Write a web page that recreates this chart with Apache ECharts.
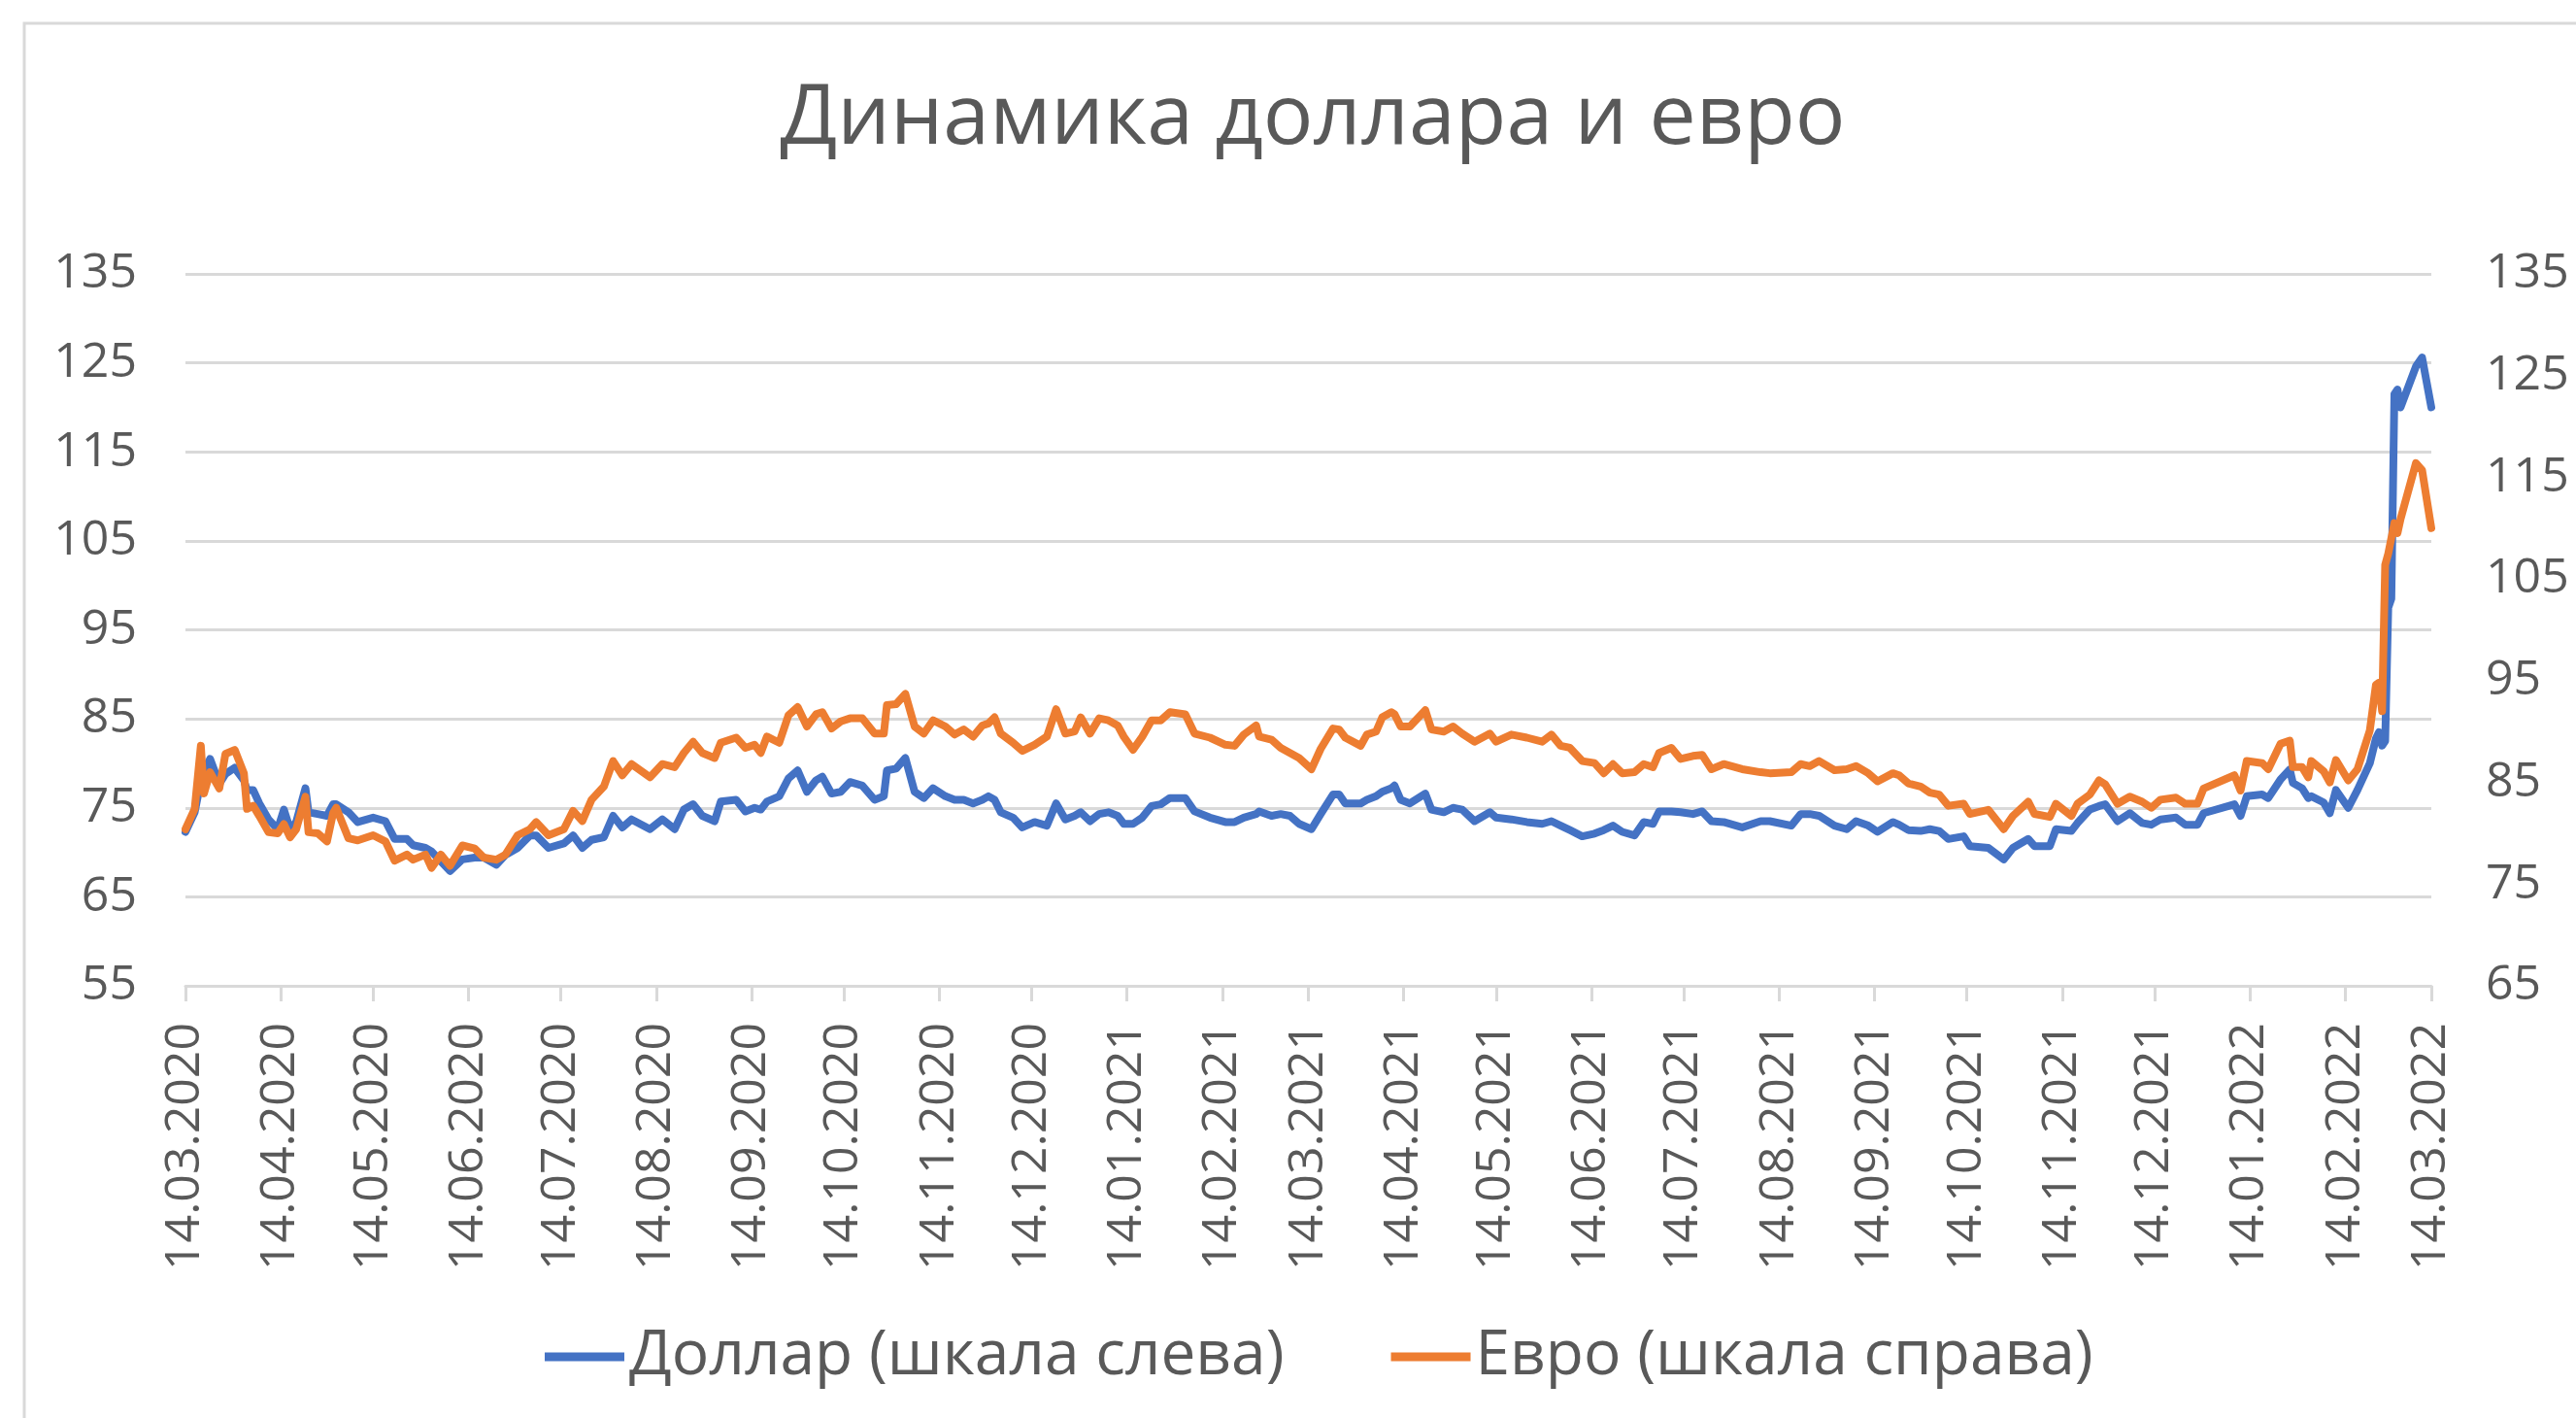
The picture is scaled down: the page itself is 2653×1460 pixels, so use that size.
<!DOCTYPE html>
<html>
<head>
<meta charset="utf-8">
<script src="https://cdn.jsdelivr.net/npm/echarts@6/dist/echarts.min.js"></script>
<style>
html, body { margin: 0; padding: 0; background: #ffffff; }
#chart { width: 2653px; height: 1460px; }
</style>
</head>
<body>
<div id="chart"></div>
<script>
// ---- Data ----
const titleText = 'Динамика доллара и евро';
const seriesNames = ['Доллар (шкала слева)', 'Евро (шкала справа)'];
const startDate = [2020, 2, 14]; // 14.03.2020 (day 0)

// days since 14.03.2020
const days = [
  0,3,5,6,8,11,13,16,19,20,
  22,24,27,30,32,34,36,39,40,43,
  46,48,49,53,56,61,65,68,72,74,
  78,80,83,86,90,94,97,101,104,108,
  112,114,118,123,126,129,132,136,139,142,
  145,151,155,159,162,165,168,172,174,179,
  182,185,187,189,193,196,199,202,205,207,
  210,213,216,220,224,227,228,231,234,237,
  240,243,247,250,253,256,259,261,263,265,
  269,272,276,280,283,286,289,291,294,297,
  300,303,305,308,311,314,317,320,325,328,
  333,338,341,344,348,349,353,356,359,362,
  366,369,373,375,377,382,384,387,389,392,
  393,395,398,403,405,409,412,415,419,424,
  426,431,436,441,444,447,450,454,458,461,
  464,467,471,474,477,479,483,486,490,493,
  496,500,506,512,515,522,525,528,531,536,
  540,543,547,550,555,557,560,564,567,570,
  573,578,580,586,591,594,599,601,606,608,
  613,615,619,622,624,628,632,636,639,642,
  647,650,654,656,666,668,670,675,677,681,
  684,685,688,690,691,695,697,699,703,706,
  710,712,713,714,715,716,717,718,719,720,
  725,727,730
];

// USD (left scale)
const usd = [
  72.3,74.5,78.0,79.0,80.5,77.7,78.8,79.5,78.1,77.0,
  77.0,75.5,73.7,72.6,74.8,72.6,73.4,77.2,74.5,74.3,
  74.1,75.4,75.4,74.5,73.4,73.9,73.5,71.5,71.5,70.8,
  70.5,70.1,69.0,67.9,69.2,69.4,69.4,68.6,69.7,70.5,
  71.9,71.9,70.5,71.0,71.9,70.5,71.4,71.7,74.1,72.8,
  73.7,72.6,73.7,72.6,74.8,75.4,74.1,73.5,75.7,75.9,
  74.6,75.0,74.8,75.7,76.3,78.3,79.2,76.8,78.1,78.5,
  76.6,76.8,77.9,77.5,75.9,76.3,79.2,79.4,80.6,76.8,
  76.1,77.2,76.3,75.9,75.9,75.5,75.9,76.3,75.9,74.5,
  73.9,72.8,73.4,73.0,75.5,73.7,74.1,74.5,73.5,74.3,
  74.5,74.1,73.2,73.2,73.9,75.2,75.4,76.1,76.1,74.6,
  73.9,73.4,73.4,73.9,74.3,74.6,74.1,74.3,74.1,73.2,
  72.6,74.3,76.5,76.5,75.5,75.5,75.9,76.3,76.8,77.2,
  77.5,75.9,75.5,76.6,74.8,74.5,75.0,74.8,73.5,74.5,
  73.9,73.7,73.4,73.2,73.5,73.0,72.5,71.8,72.1,72.5,
  73.0,72.3,71.9,73.4,73.2,74.6,74.6,74.5,74.3,74.6,
  73.5,73.4,72.8,73.5,73.5,73.0,74.3,74.3,74.1,73.0,
  72.6,73.5,73.0,72.3,73.4,73.1,72.5,72.4,72.6,72.4,
  71.5,71.8,70.7,70.5,69.2,70.5,71.5,70.7,70.7,72.6,
  72.4,73.3,74.8,75.2,75.4,73.5,74.4,73.3,73.1,73.7,
  73.9,73.1,73.1,74.4,75.4,74.1,76.3,76.5,76.1,78.2,
  79.3,77.8,77.2,76.1,76.3,75.6,74.4,77.0,75.0,77.0,
  80.0,82.8,83.5,82.0,82.5,97.5,98.5,121.5,122.0,120.0,
  124.6,125.6,120.0
];

// EUR (right scale)
const eur = [
  80.4,82.4,88.6,83.9,86.0,84.4,87.8,88.2,85.9,82.4,
  82.7,81.7,80.1,80.0,80.9,79.6,80.4,83.6,80.1,80.0,
  79.2,82.0,82.5,79.5,79.3,79.8,79.2,77.3,77.9,77.4,
  77.9,76.6,77.9,76.8,78.8,78.5,77.6,77.4,77.9,79.8,
  80.4,81.1,79.8,80.4,82.2,81.2,83.3,84.6,87.1,85.7,
  86.8,85.5,86.8,86.5,87.9,89.0,87.9,87.4,88.9,89.4,
  88.4,88.7,87.9,89.5,88.9,91.6,92.4,90.5,91.7,91.9,
  90.3,91.0,91.3,91.3,89.8,89.8,92.6,92.7,93.7,90.5,
  89.8,91.1,90.5,89.7,90.2,89.5,90.6,90.8,91.4,89.8,
  88.9,88.1,88.7,89.5,92.2,89.8,90.0,91.4,89.8,91.3,
  91.1,90.6,89.5,88.2,89.5,91.1,91.1,91.9,91.7,89.8,
  89.4,88.7,88.6,89.7,90.6,89.5,89.2,88.4,87.9,87.4,
  86.3,88.3,90.3,90.2,89.4,88.6,89.7,90.0,91.4,91.9,
  91.7,90.5,90.5,92.1,90.2,90.0,90.5,89.8,89.0,89.8,
  89.0,89.7,89.4,89.0,89.7,88.6,88.4,87.1,86.9,85.9,
  86.8,85.9,86.0,86.8,86.5,87.9,88.4,87.3,87.6,87.7,
  86.3,86.8,86.3,86.0,85.9,86.0,86.8,86.6,87.1,86.2,
  86.3,86.6,85.9,85.1,85.9,85.7,84.9,84.6,84.0,83.8,
  82.7,82.9,81.9,82.3,80.4,81.7,83.1,81.9,81.6,82.9,
  81.7,82.9,83.8,85.2,84.8,82.9,83.6,83.1,82.5,83.3,
  83.5,82.9,82.9,84.4,85.7,84.2,87.1,86.9,86.3,88.8,
  89.1,86.5,86.5,85.5,87.1,86.1,85.0,87.2,85.2,86.3,
  90.1,94.6,94.8,92.0,106.4,107.5,109.0,110.5,109.5,110.9,
  116.4,115.7,110.0
];

const tickLabels = [
  '14.03.2020','14.04.2020','14.05.2020','14.06.2020','14.07.2020','14.08.2020',
  '14.09.2020','14.10.2020','14.11.2020','14.12.2020','14.01.2021','14.02.2021',
  '14.03.2021','14.04.2021','14.05.2021','14.06.2021','14.07.2021','14.08.2021',
  '14.09.2021','14.10.2021','14.11.2021','14.12.2021','14.01.2022','14.02.2022',
  '14.03.2022'
];
const leftAxis = { min: 55, max: 135, step: 10 };
const rightAxis = { min: 65, max: 135, step: 10 };

// ---- Build ----
function dayToTime(d) { return new Date(startDate[0], startDate[1], startDate[2] + d).getTime(); }
function parseLabel(s) { const p = s.split('.'); return new Date(+p[2], +p[1] - 1, +p[0]).getTime(); }
const tickTimes = tickLabels.map(parseLabel);
function fmt(v) {
  let best = 0, bd = Infinity;
  for (let i = 0; i < tickTimes.length; i++) { const dd = Math.abs(tickTimes[i] - v); if (dd < bd) { bd = dd; best = i; } }
  return tickLabels[best];
}
const usdData = days.map((d, i) => [dayToTime(d), usd[i]]);
const eurData = days.map((d, i) => [dayToTime(d), eur[i]]);

const FONT = 'Open Sans';
const TXT = '#595959';
const GRIDC = '#d9d9d9';

const chart = echarts.init(document.getElementById('chart'), null, { renderer: 'canvas', width: 2653, height: 1460 });
chart.setOption({
  backgroundColor: '#ffffff',
  animation: false,
  graphic: [{
    type: 'rect', silent: true, z: -10,
    shape: { x: 25, y: 24, width: 2700, height: 1500 },
    style: { fill: null, stroke: '#d9d9d9', lineWidth: 3 }
  }],
  title: {
    text: titleText,
    left: 1347, top: 75, textAlign: 'center',
    textStyle: { fontFamily: FONT, fontSize: 86, fontWeight: 'normal', color: TXT }
  },
  legend: {
    data: seriesNames,
    left: 556, top: 1360,
    icon: 'rect', itemWidth: 82, itemHeight: 9, itemGap: 110,
    textStyle: { fontFamily: FONT, fontSize: 64, color: TXT }
  },
  grid: { left: 191, right: 149, top: 282, bottom: 445, containLabel: false },
  xAxis: {
    type: 'value',
    min: tickTimes[0], max: tickTimes[tickTimes.length - 1],
    axisLine: { show: true, lineStyle: { color: GRIDC, width: 3 } },
    axisTick: { show: true, customValues: tickTimes, length: 16, lineStyle: { color: GRIDC, width: 3 } },
    axisLabel: {
      customValues: tickTimes, rotate: 90, margin: 38, formatter: fmt,
      fontFamily: FONT, fontSize: 50, color: TXT, hideOverlap: false
    },
    splitLine: { show: false }
  },
  yAxis: [{
    type: 'value', position: 'left',
    min: leftAxis.min, max: leftAxis.max, interval: leftAxis.step,
    axisLine: { show: false }, axisTick: { show: false },
    axisLabel: { margin: 50, fontFamily: FONT, fontSize: 50, color: TXT },
    splitLine: { show: true, lineStyle: { color: GRIDC, width: 3 } }
  }, {
    type: 'value', position: 'right',
    min: rightAxis.min, max: rightAxis.max, interval: rightAxis.step,
    axisLine: { show: false }, axisTick: { show: false },
    axisLabel: { margin: 56, fontFamily: FONT, fontSize: 50, color: TXT },
    splitLine: { show: false }
  }],
  series: [{
    name: seriesNames[0], type: 'line', yAxisIndex: 0,
    data: usdData, showSymbol: false, symbol: 'none',
    itemStyle: { color: '#4472C4' },
    lineStyle: { color: '#4472C4', width: 8, cap: 'round', join: 'round' }
  }, {
    name: seriesNames[1], type: 'line', yAxisIndex: 1,
    data: eurData, showSymbol: false, symbol: 'none',
    itemStyle: { color: '#ED7D31' },
    lineStyle: { color: '#ED7D31', width: 8, cap: 'round', join: 'round' }
  }]
});
</script>
</body>
</html>
